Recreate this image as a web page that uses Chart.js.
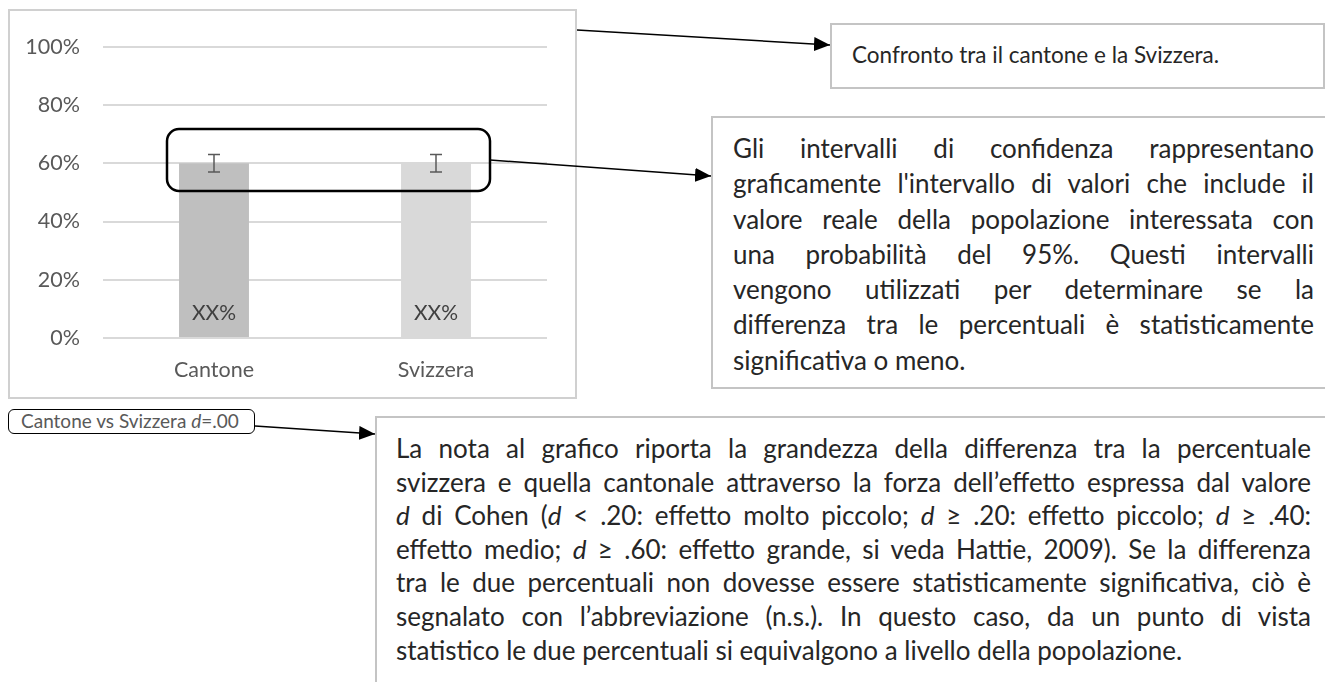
<!DOCTYPE html>
<html>
<head>
<meta charset="utf-8">
<script src="https://cdn.jsdelivr.net/npm/chart.js@4.4.0/dist/chart.umd.min.js"></script>
<style>
body { margin: 0; width: 1325px; height: 682px; overflow: hidden; background: #fff; position: relative; font-family: Lato, sans-serif; }
#chartBox { position: absolute; left: 8px; top: 9px; width: 565px; height: 386px; border: 2px solid #d0d0d0; }
#chartBox canvas { position: absolute; left: 0; top: 0; }
.box { position: absolute; box-sizing: border-box; border: 2px solid #c4c4c4; color: #262626; }
#box1 { left: 830px; top: 23px; width: 495px; height: 66px; padding-left: 20px; font-size: 22.5px; line-height: 60px; }
#box2 { left: 711px; top: 116px; width: 614px; height: 273px; border-right: none; padding: 13px 11px 0 20px; font-size: 26px; line-height: 35.3px; }
#box3 { left: 375px; top: 416px; width: 950px; height: 300px; border-right: none; border-bottom: none; padding: 14px 14px 0 19px; font-size: 26px; line-height: 33.6px; }
.j { text-align: justify; text-align-last: justify; }
.l { text-align: left; }
#note { position: absolute; left: 8px; top: 409px; width: 247px; height: 25px; box-sizing: border-box; border: 1.5px solid #000; border-radius: 6px; font-size: 19px; line-height: 22px; color: #595959; padding-left: 12px; }
svg { position: absolute; left: 0; top: 0; }
</style>
</head>
<body>
<div id="chartBox"><canvas id="chart1Vis"></canvas></div>

<div class="box" id="box1">Confronto tra il cantone e la Svizzera.</div>

<div class="box" id="box2">
<div class="j">Gli intervalli di confidenza rappresentano</div>
<div class="j">graficamente l'intervallo di valori che include il</div>
<div class="j">valore reale della popolazione interessata con</div>
<div class="j">una probabilità del 95%. Questi intervalli</div>
<div class="j">vengono utilizzati per determinare se la</div>
<div class="j">differenza tra le percentuali è statisticamente</div>
<div class="l">significativa o meno.</div>
</div>

<div id="note">Cantone vs Svizzera <i>d</i>=.00</div>

<div class="box" id="box3">
<div class="j">La nota al grafico riporta la grandezza della differenza tra la percentuale</div>
<div class="j">svizzera e quella cantonale attraverso la forza dell’effetto espressa dal valore</div>
<div class="j"><i>d</i> di Cohen (<i>d</i> &lt; .20: effetto molto piccolo; <i>d</i> ≥ .20: effetto piccolo; <i>d</i> ≥ .40:</div>
<div class="j">effetto medio; <i>d</i> ≥ .60: effetto grande, si veda Hattie, 2009). Se la differenza</div>
<div class="j">tra le due percentuali non dovesse essere statisticamente significativa, ciò è</div>
<div class="j">segnalato con l’abbreviazione (n.s.). In questo caso, da un punto di vista</div>
<div class="l">statistico le due percentuali si equivalgono a livello della popolazione.</div>
</div>

<svg width="1325" height="682">
  <defs>
    <marker id="head" markerWidth="16" markerHeight="14" refX="16" refY="7" orient="auto" markerUnits="userSpaceOnUse">
      <path d="M0,0 L16,7 L0,14 z" fill="#000"/>
    </marker>
  </defs>
  <rect x="167" y="129" width="323" height="62" rx="12" ry="12" fill="none" stroke="#000" stroke-width="2.5"/>
  <line x1="577" y1="30" x2="830" y2="45" stroke="#000" stroke-width="1.5" marker-end="url(#head)"/>
  <line x1="490" y1="160" x2="711" y2="176" stroke="#000" stroke-width="1.5" marker-end="url(#head)"/>
  <line x1="255" y1="426" x2="375" y2="434" stroke="#000" stroke-width="1.5" marker-end="url(#head)"/>
</svg>

<script>
var categories = ['Cantone', 'Svizzera'];
var values = [60, 60];
var ciLow = [57, 57];
var ciHigh = [63, 63];
var valueLabels = ['XX%', 'XX%'];
var yTicks = [0, 20, 40, 60, 80, 100];

var barColors = ['#bfbfbf', '#d9d9d9'];

// error bars and the labels at the bar base
var extras = {
    id: 'extras',
    afterDatasetsDraw: function(chart) {
        var ctx = chart.ctx;
        var y = chart.scales.y;
        var meta = chart.getDatasetMeta(0);
        ctx.save();
        meta.data.forEach(function(bar, i) {
            var top = y.getPixelForValue(ciHigh[i]);
            var bottom = y.getPixelForValue(ciLow[i]);
            ctx.strokeStyle = '#595959';
            ctx.lineWidth = 1.5;
            ctx.beginPath();
            ctx.moveTo(bar.x, top);
            ctx.lineTo(bar.x, bottom);
            ctx.moveTo(bar.x - 6, top);
            ctx.lineTo(bar.x + 6, top);
            ctx.moveTo(bar.x - 6, bottom);
            ctx.lineTo(bar.x + 6, bottom);
            ctx.stroke();

            ctx.fillStyle = '#404040';
            ctx.font = '21px Lato';
            ctx.textAlign = 'center';
            ctx.textBaseline = 'middle';
            ctx.fillText(valueLabels[i], bar.x, y.getPixelForValue(0) - 25);
        });
        ctx.restore();
    }
};

var ctx = document.getElementById('chart1Vis').getContext('2d');
ctx.canvas.width = 565;
ctx.canvas.height = 386;

var myBarChart = new Chart(ctx, {
    type: 'bar',
    data: {
        labels: categories,
        datasets: [
            {
                data: values,
                backgroundColor: barColors,
                categoryPercentage: 1,
                barPercentage: 0.315
            }
        ]
    },
    options: {
        responsive: false,
        animation: false,
        layout: { padding: { top: 27, right: 28, bottom: 0, left: 0 } },
        plugins: {
            legend: { display: false },
            tooltip: { enabled: false }
        },
        scales: {
            x: {
                grid: { display: false },
                border: { display: false },
                ticks: { color: '#595959', font: { family: 'Lato', size: 21.5 }, padding: 11 },
                afterFit: function(scale) { scale.height = 59; }
            },
            y: {
                min: 0,
                max: 100,
                afterBuildTicks: function(scale) {
                    scale.ticks = yTicks.map(function(v) { return { value: v }; });
                },
                grid: { color: '#d9d9d9', lineWidth: 2, drawTicks: false },
                border: { display: false },
                ticks: {
                    color: '#595959',
                    font: { family: 'Lato', size: 21.5 },
                    padding: 23,
                    callback: function(v) { return v + '%'; }
                },
                afterFit: function(scale) { scale.width = 93; }
            }
        }
    },
    plugins: [extras]
});
</script>
</body>
</html>
